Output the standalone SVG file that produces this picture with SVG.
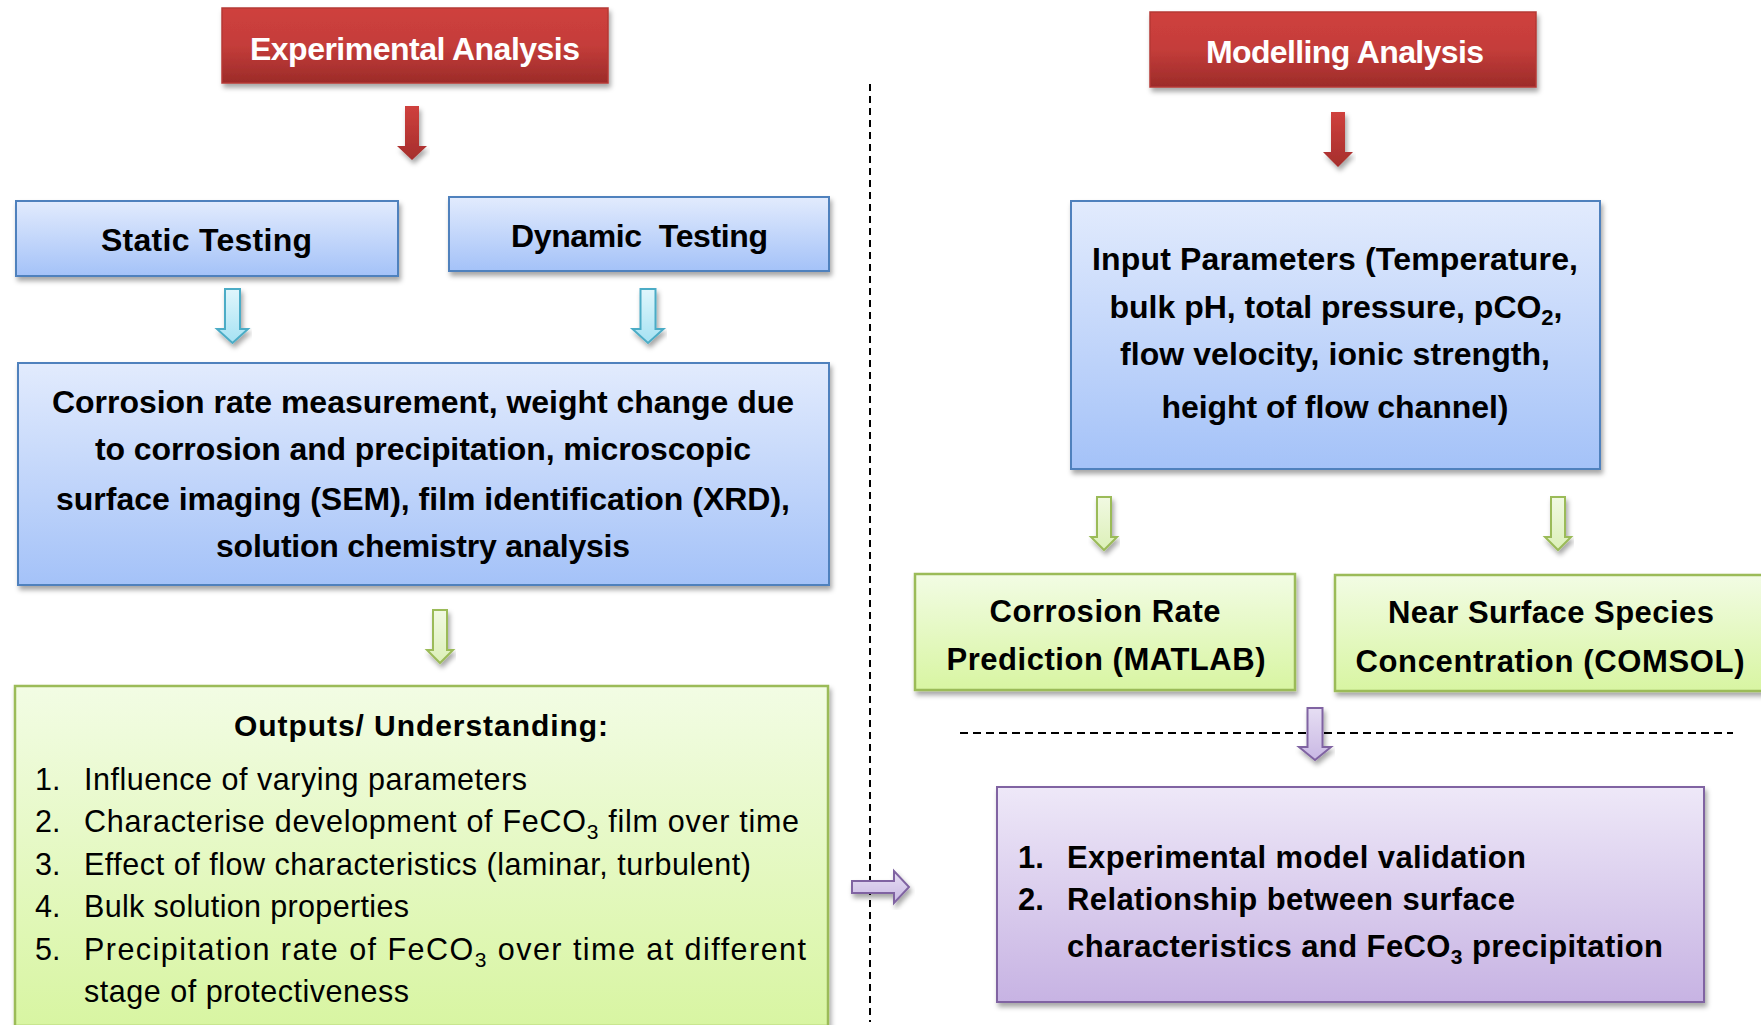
<svg xmlns="http://www.w3.org/2000/svg" width="1761" height="1025" viewBox="0 0 1761 1025">
<defs>
<linearGradient id="gRed" x1="0" y1="0" x2="0" y2="1"><stop offset="0" stop-color="#cf403d"/><stop offset="0.5" stop-color="#c43d3a"/><stop offset="1" stop-color="#9c2b29"/></linearGradient>
<linearGradient id="gBlue" x1="0" y1="0" x2="0" y2="1"><stop offset="0" stop-color="#e2ebfd"/><stop offset="1" stop-color="#a4c2f8"/></linearGradient>
<linearGradient id="gGreen" x1="0" y1="0" x2="0" y2="1"><stop offset="0" stop-color="#f2fce4"/><stop offset="1" stop-color="#d8f5a2"/></linearGradient>
<linearGradient id="gPurple" x1="0" y1="0" x2="0" y2="1"><stop offset="0" stop-color="#eee8f8"/><stop offset="1" stop-color="#c7b3e3"/></linearGradient>
<linearGradient id="gCyanA" x1="0" y1="0" x2="0" y2="1"><stop offset="0" stop-color="#e0f6fc"/><stop offset="1" stop-color="#a6e2f3"/></linearGradient>
<linearGradient id="gGreenA" x1="0" y1="0" x2="0" y2="1"><stop offset="0" stop-color="#f1f9e2"/><stop offset="1" stop-color="#dcf0b8"/></linearGradient>
<linearGradient id="gPurpleA" x1="0" y1="0" x2="0" y2="1"><stop offset="0" stop-color="#e6def3"/><stop offset="1" stop-color="#c9b8e4"/></linearGradient>
<linearGradient id="gRedA" x1="0" y1="0" x2="0" y2="1"><stop offset="0" stop-color="#cf403d"/><stop offset="1" stop-color="#a52e2c"/></linearGradient>
<filter id="sh" x="-10%" y="-10%" width="120%" height="130%"><feDropShadow dx="2" dy="4" stdDeviation="2.5" flood-color="#000" flood-opacity="0.35"/></filter>
</defs>
<style>
text{font-family:"Liberation Sans",Arial,sans-serif;fill:#000}
.b{font-weight:bold}
.hdr{font-weight:bold;fill:#fff;font-size:32px}
.t31{font-size:32px;font-weight:bold}
.t30{font-size:31px;font-weight:bold}
.reg{font-size:30.5px}
.red{fill:url(#gRed);stroke:#b53835;stroke-width:1.5}
.blue{fill:url(#gBlue);stroke:#4f81bd;stroke-width:2}
.green{fill:url(#gGreen);stroke:#9bbb59;stroke-width:2.5}
.purple{fill:url(#gPurple);stroke:#8064a2;stroke-width:2}
.ac{fill:url(#gCyanA);stroke:#4bacc6;stroke-width:2}
.ag{fill:url(#gGreenA);stroke:#9bbb59;stroke-width:2}
.ap{fill:url(#gPurpleA);stroke:#8064a2;stroke-width:2}
.ar{fill:url(#gRedA);stroke:none}
.dash{stroke:#000;stroke-width:2;fill:none}
</style>

<g id="connectors">
<line class="dash" x1="870" y1="84" x2="870" y2="1022" stroke-dasharray="7,5"/>
<line class="dash" x1="960" y1="733" x2="1733" y2="733" stroke-dasharray="8,5"/>
<path class="ar" filter="url(#sh)" d="M405,106 H419 V146 H427 L412,160 L397,146 H405 Z"/>
<path class="ar" filter="url(#sh)" d="M1331,112 H1345 V152 H1353 L1338,167 L1323,152 H1331 Z"/>
<path class="ac" filter="url(#sh)" d="M225,289 H240 V329 H248 L232.5,343 L217,329 H225 Z"/>
<path class="ac" filter="url(#sh)" d="M640.5,289 H655.5 V329 H663.5 L648,343 L632.5,329 H640.5 Z"/>
<path class="ag" filter="url(#sh)" d="M433,610 H447 V650 H453 L440,663 L427,650 H433 Z"/>
<path class="ag" filter="url(#sh)" d="M1097,497 H1111 V537 H1117 L1104,550 L1091,537 H1097 Z"/>
<path class="ag" filter="url(#sh)" d="M1551,497 H1565 V537 H1571 L1558,550 L1545,537 H1551 Z"/>
<path class="ap" filter="url(#sh)" d="M1307.5,708 H1322.5 V747 H1331 L1315,760 L1299,747 H1307.5 Z"/>
<path class="ap" filter="url(#sh)" d="M852,881 H894 V871 L909,887 L894,903 V893 H852 Z"/>
</g>

<g id="exp-analysis">
<rect class="red" filter="url(#sh)" x="222" y="8" width="386" height="75"/>
<text class="hdr" x="415" y="60" text-anchor="middle" textLength="330">Experimental Analysis</text>
</g>
<g id="mod-analysis">
<rect class="red" filter="url(#sh)" x="1150" y="12" width="386" height="75"/>
<text class="hdr" x="1345" y="63" text-anchor="middle" textLength="278">Modelling Analysis</text>
</g>
<g id="static-testing">
<rect class="blue" filter="url(#sh)" x="16" y="201" width="382" height="75"/>
<text class="t31" x="206.5" y="251" text-anchor="middle" textLength="211">Static Testing</text>
</g>
<g id="dynamic-testing">
<rect class="blue" filter="url(#sh)" x="449" y="197" width="380" height="74"/>
<text class="t31" x="639.5" y="247" text-anchor="middle" textLength="257" xml:space="preserve">Dynamic  Testing</text>
</g>
<g id="measurements">
<rect class="blue" filter="url(#sh)" x="18" y="363" width="811" height="222"/>
<text class="t31" x="423" y="413" text-anchor="middle" textLength="742">Corrosion rate measurement, weight change due</text>
<text class="t31" x="423" y="460" text-anchor="middle" textLength="656">to corrosion and precipitation, microscopic</text>
<text class="t31" x="423" y="510" text-anchor="middle" textLength="734">surface imaging (SEM), film identification (XRD),</text>
<text class="t31" x="423" y="557" text-anchor="middle" textLength="414">solution chemistry analysis</text>
</g>
<g id="outputs">
<rect class="green" filter="url(#sh)" x="15" y="686" width="813" height="340"/>
<text class="b" font-size="30" x="421" y="736" text-anchor="middle" textLength="374">Outputs/ Understanding:</text>
<text class="reg" x="35" y="790">1.</text>
<text class="reg" x="84" y="790" textLength="443">Influence of varying parameters</text>
<text class="reg" x="35" y="832">2.</text>
<text class="reg" x="84" y="832" textLength="715">Characterise development of FeCO<tspan font-size="21" dy="7">3</tspan><tspan dy="-7"> film over time</tspan></text>
<text class="reg" x="35" y="875">3.</text>
<text class="reg" x="84" y="875" textLength="667">Effect of flow characteristics (laminar, turbulent)</text>
<text class="reg" x="35" y="917">4.</text>
<text class="reg" x="84" y="917" textLength="325">Bulk solution properties</text>
<text class="reg" x="35" y="960">5.</text>
<text class="reg" x="84" y="960" textLength="722">Precipitation rate of FeCO<tspan font-size="21" dy="7">3</tspan><tspan dy="-7"> over time at different</tspan></text>
<text class="reg" x="84" y="1002" textLength="325">stage of protectiveness</text>
</g>
<g id="input-parameters">
<rect class="blue" filter="url(#sh)" x="1071" y="201" width="529" height="268"/>
<text class="t31" x="1335" y="270" text-anchor="middle" textLength="486">Input Parameters (Temperature,</text>
<text class="t31" x="1336" y="318" text-anchor="middle" textLength="453">bulk pH, total pressure, pCO<tspan font-size="22" dy="7">2</tspan><tspan dy="-7">,</tspan></text>
<text class="t31" x="1335" y="365" text-anchor="middle" textLength="430">flow velocity, ionic strength,</text>
<text class="t31" x="1335" y="418" text-anchor="middle" textLength="347">height of flow channel)</text>
</g>
<g id="corrosion-rate">
<rect class="green" filter="url(#sh)" x="915" y="574" width="380" height="116"/>
<text class="t30" x="1105" y="622" text-anchor="middle" textLength="231">Corrosion Rate</text>
<text class="t30" x="1106" y="670" text-anchor="middle" textLength="319">Prediction (MATLAB)</text>
</g>
<g id="near-surface">
<rect class="green" filter="url(#sh)" x="1335" y="575" width="432" height="116"/>
<text class="t30" x="1551" y="623" text-anchor="middle" textLength="326">Near Surface Species</text>
<text class="t30" x="1550" y="672" text-anchor="middle" textLength="389">Concentration (COMSOL)</text>
</g>
<g id="validation">
<rect class="purple" filter="url(#sh)" x="997" y="787" width="707" height="215"/>
<text class="t30" x="1018" y="868">1.</text>
<text class="t30" x="1067" y="868" textLength="459">Experimental model validation</text>
<text class="t30" x="1018" y="910">2.</text>
<text class="t30" x="1067" y="910" textLength="448">Relationship between surface</text>
<text class="t30" x="1067" y="957" textLength="596">characteristics and FeCO<tspan font-size="21" dy="7">3</tspan><tspan dy="-7"> precipitation</tspan></text>
</g>
</svg>
